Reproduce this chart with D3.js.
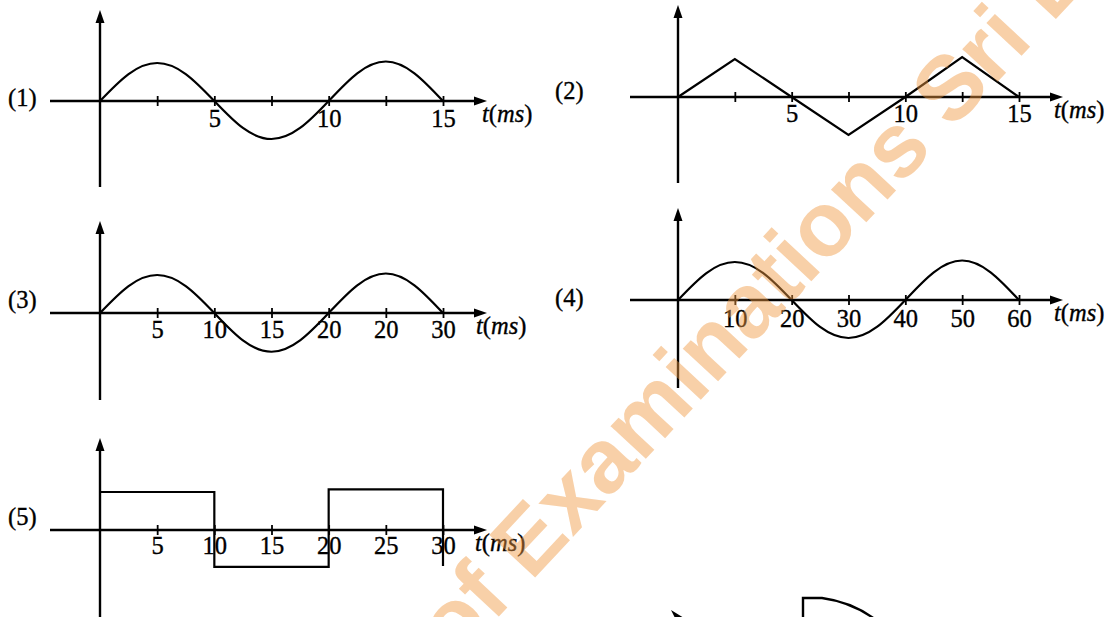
<!DOCTYPE html>
<meta charset="utf-8">
<title>Waveforms t(ms)</title>
<style>
  body {
    margin: 0;
    background: #fff;
  }

  .axis-line {
    stroke: #000;
    stroke-width: 2.4px;
    fill: none;
  }

  .wave {
    stroke: #000;
    stroke-width: 2.2px;
    fill: none;
  }

  .arrow {
    fill: #000;
  }

  .tick line {
    stroke: #000;
    stroke-width: 1.8px;
  }

  text {
    font-family: "Liberation Serif", "Times New Roman", serif;
    font-size: 24.5px;
    fill: #000;
    stroke: #000;
    stroke-width: 0.35px;
  }

  .watermark {
    font-family: "Liberation Sans", Arial, sans-serif;
    font-weight: bold;
    font-size: 91px;
    fill: rgb(239, 152, 65);
    fill-opacity: 0.46;
    stroke: none;
  }
</style>

<body>
  <script src="https://d3js.org/d3.v7.min.js"></script>
  <script>
    var width = 1114,
      height = 617;

    var panelNames = ["(1)", "(2)", "(3)", "(4)", "(5)"];
    var unitLabel = ["t", "(", "ms", ")"];

    // (1) sine, read every 1.25 ms
    var p1Time = [0, 1.25, 2.5, 3.75, 5, 6.25, 7.5, 8.75, 10, 11.25, 12.5, 13.75, 15];
    var p1Value = [0, 0.71, 1, 0.71, 0, -0.71, -1, -0.71, 0, 0.73, 1.04, 0.73, 0];
    var p1Ticks = [2.5, 5, 7.5, 10, 12.5, 15];
    var p1TickLabels = ["", "5", "", "10", "", "15"];

    // (2) triangle
    var p2Time = [0, 2.5, 5, 7.5, 10, 12.5, 15];
    var p2Value = [0, 1, 0, -1, 0, 1.05, 0];
    var p2Ticks = [2.5, 5, 7.5, 10, 12.5, 15];
    var p2TickLabels = ["", "5", "", "10", "", "15"];

    // (3) sine, read every 2.5 ms
    var p3Time = [0, 2.5, 5, 7.5, 10, 12.5, 15, 17.5, 20, 22.5, 25, 27.5, 30];
    var p3Value = [0, 0.71, 1, 0.71, 0, -0.72, -1.02, -0.72, 0, 0.73, 1.04, 0.73, 0];
    var p3Ticks = [5, 10, 15, 20, 25, 30];
    var p3TickLabels = ["5", "10", "15", "20", "20", "30"];

    // (4) sine, read every 5 ms
    var p4Time = [0, 5, 10, 15, 20, 25, 30, 35, 40, 45, 50, 55, 60];
    var p4Value = [0, 0.71, 1, 0.71, 0, -0.71, -1, -0.71, 0, 0.73, 1.04, 0.73, 0];
    var p4Ticks = [10, 20, 30, 40, 50, 60];
    var p4TickLabels = ["10", "20", "30", "40", "50", "60"];

    // (5) square
    var p5Time = [0, 10, 20, 30];
    var p5Value = [1, -0.97, 1.07, -0.95];
    var p5Ticks = [5, 10, 15, 20, 25, 30];
    var p5TickLabels = ["5", "10", "15", "20", "25", "30"];

    var watermarkText = "Department of Examinations Sri Lanka";

    // layout of each little graph
    var panels = [
      { time: p1Time, value: p1Value, ticks: p1Ticks, labels: p1TickLabels, tmax: 15, curve: d3.curveNatural,
        ox: 100, xEnd: 443, oy: 101, left: 50, tip: 487, top: 10, bottom: 187, nameX: 8, nameY: 106, unitX: 482, lblY: 26 },
      { time: p2Time, value: p2Value, ticks: p2Ticks, labels: p2TickLabels, tmax: 15, curve: d3.curveLinear,
        ox: 678, xEnd: 1019, oy: 97, left: 630, tip: 1063, top: 5, bottom: 183, nameX: 555, nameY: 99, unitX: 1054, lblY: 25 },
      { time: p3Time, value: p3Value, ticks: p3Ticks, labels: p3TickLabels, tmax: 30, curve: d3.curveNatural,
        ox: 100, xEnd: 443, oy: 313, left: 50, tip: 487, top: 221, bottom: 400, nameX: 8, nameY: 308, unitX: 476, lblY: 25 },
      { time: p4Time, value: p4Value, ticks: p4Ticks, labels: p4TickLabels, tmax: 60, curve: d3.curveNatural,
        ox: 678, xEnd: 1019, oy: 300, left: 630, tip: 1063, top: 208, bottom: 388, nameX: 555, nameY: 306, unitX: 1054, lblY: 27 },
      { time: p5Time, value: p5Value, ticks: p5Ticks, labels: p5TickLabels, tmax: 30, curve: d3.curveStepAfter,
        ox: 100, xEnd: 443, oy: 530, left: 50, tip: 487, top: 438, bottom: 620, nameX: 8, nameY: 525, unitX: 475, lblY: 24 }
    ];

    var svg = d3.select("body").append("svg")
      .attr("width", width)
      .attr("height", height);

    panels.forEach(function(p, i) {
      var x = d3.scaleLinear().domain([0, p.tmax]).range([p.ox, p.xEnd]);
      var y = d3.scaleLinear().domain([-1, 1]).range([p.oy + 38, p.oy - 38]);
      var g = svg.append("g");

      // axes
      g.append("line").attr("class", "axis-line")
        .attr("x1", p.left).attr("x2", p.tip - 6)
        .attr("y1", p.oy).attr("y2", p.oy);
      g.append("line").attr("class", "axis-line")
        .attr("x1", p.ox).attr("x2", p.ox)
        .attr("y1", p.top + 6).attr("y2", p.bottom);
      g.append("path").attr("class", "arrow")
        .attr("d", "M" + p.tip + "," + p.oy + "L" + (p.tip - 13) + "," + (p.oy - 4.5) +
          "L" + (p.tip - 13) + "," + (p.oy + 4.5) + "Z");
      g.append("path").attr("class", "arrow")
        .attr("d", "M" + p.ox + "," + p.top + "L" + (p.ox - 4.5) + "," + (p.top + 13) +
          "L" + (p.ox + 4.5) + "," + (p.top + 13) + "Z");

      // ticks crossing the time axis
      var axis = d3.axisBottom(x)
        .tickValues(p.ticks)
        .tickSize(5)
        .tickFormat(function(d, k) { return p.labels[k]; });
      var ax = g.append("g")
        .attr("transform", "translate(0," + p.oy + ")")
        .call(axis);
      ax.select(".domain").remove();
      ax.selectAll(".tick line").attr("y1", -5);
      ax.selectAll(".tick text")
        .attr("y", p.lblY)
        .attr("dy", null)
        .attr("fill", "#000")
        .style("font-family", "'Liberation Serif', serif")
        .style("font-size", "24.5px");

      // the wave
      var pts = p.time.map(function(t, k) { return [t, p.value[k]]; });
      var line = d3.line()
        .x(function(d) { return x(d[0]); })
        .y(function(d) { return y(d[1]); })
        .curve(p.curve);
      g.append("path").attr("class", "wave").attr("d", line(pts));

      // labels
      g.append("text").attr("x", p.nameX).attr("y", p.nameY).text(panelNames[i]);
      var u = g.append("text").attr("x", p.unitX).attr("y", p.oy + 21);
      unitLabel.forEach(function(s) {
        u.append("tspan")
          .style("font-style", (s == "t" || s == "ms") ? "italic" : "normal")
          .text(s);
      });
    });

    // cut-off start of the next figure
    svg.append("path").attr("class", "axis-line")
      .attr("d", "M803,620L803,598L822,598Q852,602,876,620");
    svg.append("path").attr("class", "arrow")
      .attr("d", "M671,610L684,618L676,620Z");

    // watermark, placed so that the "E" starts at (531,582)
    var wm = svg.append("g")
      .attr("transform", "translate(531,582) rotate(-47)");
    var wt = wm.append("text")
      .attr("class", "watermark")
      .text(watermarkText);
    var off = wt.node().getSubStringLength(0, watermarkText.indexOf("E"));
    wt.attr("x", -off);
  </script>

</body>

</html>
